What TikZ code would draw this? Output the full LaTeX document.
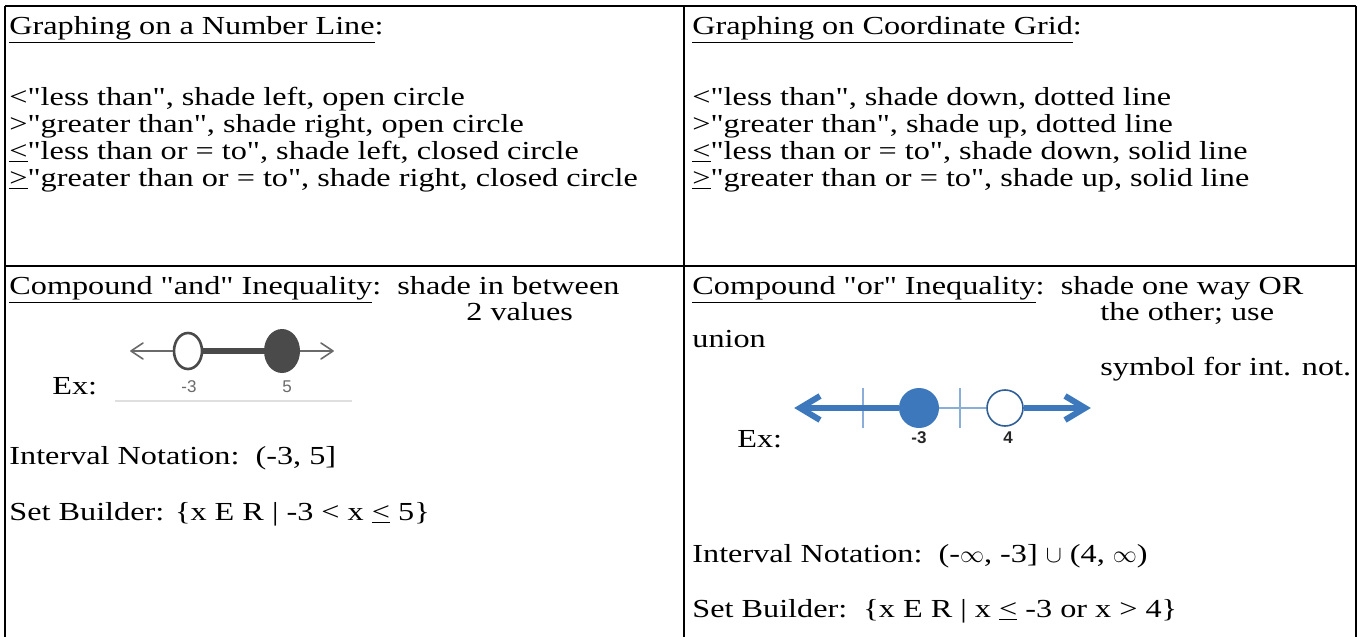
\documentclass[tikz,border=0pt]{standalone}
\usepackage{fontspec}
\setmainfont{Liberation Serif}[Ligatures=TeXOff, FakeStretch=1.24]
\newfontfamily\arialfont{Liberation Sans}[Ligatures=TeXOff]
\usetikzlibrary{shapes.geometric}
\definecolor{lineblue}{HTML}{3D78BD}
\definecolor{lightblue}{HTML}{8AAED8}
\definecolor{darkblue}{HTML}{2F5F96}
\definecolor{grayline}{HTML}{4A4A4A}
\definecolor{graythin}{HTML}{6A6A6A}
\tikzset{
  txt/.style={anchor=base west, inner sep=0pt, font=\fontsize{13}{15}\selectfont},
  border/.style={line width=1.1pt, black},
  nlabel/.style={anchor=base, inner sep=0pt, font=\arialfont\fontsize{8.5}{10}\selectfont},
  blabel/.style={anchor=base, inner sep=0pt, font=\arialfont\bfseries\fontsize{8.5}{10}\selectfont, text=black!85},
}
\begin{document}
\begin{tikzpicture}[x=0.5pt,y=-0.5pt]
\useasboundingbox (0,0) rectangle (1360,637);
% table borders
\coordinate (tl) at (5,6);
\coordinate (tm) at (684,6);
\coordinate (tr) at (1356,6);
\coordinate (bl) at (5,637);
\coordinate (bm) at (684,637);
\coordinate (br) at (1356,637);
\coordinate (ml) at (5,266);
\coordinate (mr) at (1356,266);
\draw[border] (tl) -- (tr);
\draw[border] (tl) -- (bl);
\draw[border] (tm) -- (bm);
\draw[border] (tr) -- (br);
\draw[border] (ml) -- (mr);

% top-left cell
\node[txt] (t1) at (9,34) {\underline{Graphing on a Number Line}:};
\node[txt] (a1) at (9,105) {<"less than", shade left, open circle};
\node[txt] (a2) at (9,132) {>"greater than", shade right, open circle};
\node[txt] (a3) at (9,159) {\underline{<}"less than or = to", shade left, closed circle};
\node[txt] (a4) at (9,186) {\underline{>}"greater than or = to", shade right, closed circle};

% top-right cell
\node[txt] (t2) at (692,34) {\underline{Graphing on Coordinate Grid}:};
\node[txt] (b1) at (692,105) {<"less than", shade down, dotted line};
\node[txt] (b2) at (692,132) {>"greater than", shade up, dotted line};
\node[txt] (b3) at (692,159) {\underline{<}"less than or = to", shade down, solid line};
\node[txt] (b4) at (692,186) {\underline{>}"greater than or = to", shade up, solid line};

% bottom-left cell
\node[txt] (c1) at (9,294) {\underline{Compound "and" Inequality}:\ \ shade in between};
\node[txt] (c2) at (466,320) {2 values};
\node[txt] (c3) at (52,394) {Ex:};
\node[txt] (c4) at (9,464) {Interval Notation:\ \ (-3, 5]};
\node[txt] (c5) at (9,520) {Set Builder: \{x E R | -3 < x \underline{<} 5\}};

% "and" number line
\draw[gray!25, line width=0.6pt] (115,401) -- (352,401);
\coordinate (la) at (131,351);
\coordinate (ra) at (333,351);
\node[ellipse, draw=grayline, line width=1.3pt, fill=white, minimum width=14, minimum height=18, inner sep=0] (oc1) at (188,351) {};
\node[ellipse, fill=grayline, minimum width=18, minimum height=22, inner sep=0] (fc1) at (282,351) {};
\draw[graythin, line width=0.8pt] (la) -- (oc1.west);
\draw[graythin, line width=0.8pt] (fc1.east) -- (ra);
\draw[graythin, line width=0.8pt, line cap=round, line join=round] ([shift={(12,-8)}]la) -- (la) -- ([shift={(12,8)}]la);
\draw[graythin, line width=0.8pt, line cap=round, line join=round] ([shift={(-12,-8)}]ra) -- (ra) -- ([shift={(-12,8)}]ra);
\draw[grayline, line width=3pt] (oc1.east) -- (fc1.west);
\node[nlabel, text=graythin] (l1) at (189,392) {-3};
\node[nlabel, text=graythin] (l2) at (287,392) {5};

% bottom-right cell
\node[txt] (d1) at (692,294) {\underline{Compound "or" Inequality}:\ \ shade one way OR};
\node[txt] (d2) at (1100,320) {the other; use};
\node[txt] (d3) at (692,347) {union};
\node[txt] (d4) at (1100,375) {symbol for int. not.};
\node[txt] (d5) at (737,447) {Ex:};
\node[txt] (d6) at (692,562) {Interval Notation:\ \ (-\(\infty\), -3] \(\cup\) (4, \(\infty\))};
\node[txt] (d7) at (692,617) {Set Builder:\ \ \{x E R | x \underline{<} -3 or x > 4\}};

% "or" number line
\coordinate (lb) at (800,408);
\coordinate (rb) at (1085,408);
\node[circle, fill=lineblue, minimum size=20, inner sep=0] (fc2) at (919,408) {};
\node[circle, draw=darkblue, line width=0.8pt, fill=white, minimum size=18, inner sep=0] (oc2) at (1005,408) {};
\coordinate (tk1) at (863,408);
\coordinate (tk2) at (960,408);
\draw[lightblue, line width=1pt] (fc2.east) -- (oc2.west);
\draw[lightblue, line width=1pt] ([yshift=-10]tk1) -- ([yshift=10]tk1);
\draw[lightblue, line width=1pt] ([yshift=-10]tk2) -- ([yshift=10]tk2);
\draw[lineblue, line width=3pt] ([xshift=3]lb) -- (fc2.west);
\draw[lineblue, line width=3pt] (oc2.east) -- ([xshift=-3]rb);
\draw[lineblue, line width=3pt, line join=miter] ([shift={(20,-12)}]lb) -- (lb) -- ([shift={(20,12)}]lb);
\draw[lineblue, line width=3pt, line join=miter] ([shift={(-20,-12)}]rb) -- (rb) -- ([shift={(-20,12)}]rb);
\node[blabel] (m1) at (919,443) {-3};
\node[blabel] (m2) at (1008,443) {4};
\end{tikzpicture}
\end{document}
